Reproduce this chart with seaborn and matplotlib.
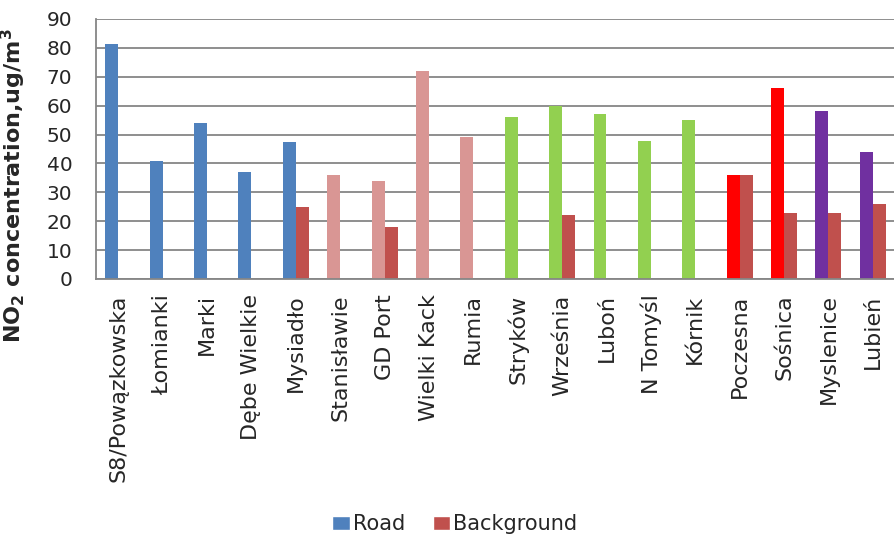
import numpy as np
import pandas as pd
import matplotlib
matplotlib.use("Agg")
import matplotlib.pyplot as plt
import seaborn as sns
from matplotlib.ticker import MultipleLocator, FixedLocator

# data
sites = ["S8/Powązkowska", "Łomianki", "Marki", "Dębe Wielkie", "Mysiadło",
         "Stanisławie", "GD Port", "Wielki Kack", "Rumia",
         "Stryków", "Września", "Luboń", "N Tomyśl", "Kórnik",
         "Poczesna", "Sośnica", "Myslenice", "Lubień"]
road = [81.3, 41, 54, 37, 47.3,
        36, 34, 72, 49,
        56, 60, 57, 47.8, 55,
        36, 66, 58, 44]
background = [np.nan, np.nan, np.nan, np.nan, 25,
              np.nan, 18, np.nan, np.nan,
              np.nan, 22, np.nan, np.nan, np.nan,
              36, 23, 23, 26]
# region group of each site (colour of the road bar)
groups = [0, 0, 0, 0, 0, 1, 1, 1, 1, 2, 2, 2, 2, 2, 3, 3, 4, 4]
group_colors = ["#4F81BD", "#D99694", "#92D050", "#FF0000", "#7030A0"]
bg_color = "#C0504D"

df = pd.DataFrame({
    "site": sites * 2,
    "value": road + background,
    "type": ["Road"] * len(sites) + ["Background"] * len(sites),
}).dropna()

sns.set_style("white")
plt.rcParams["font.family"] = ["DejaVu Sans"]
plt.rcParams["mathtext.default"] = "regular"

fig = plt.figure(figsize=(8.95, 5.36), dpi=100)
ax = fig.add_axes([0.1073, 0.4795, 0.8927, 0.4851])

sns.barplot(data=df, x="site", y="value", hue="type", order=sites,
            hue_order=["Road", "Background"],
            palette={"Road": group_colors[0], "Background": bg_color},
            saturation=1, width=0.585, gap=0, ax=ax, legend=True)

# recolour road bars by region
for bar, g in zip(ax.containers[0], groups):
    bar.set_facecolor(group_colors[g])
for cont in ax.containers:
    for bar in cont:
        bar.set_edgecolor("none")

ax.set_xlim(-0.5, len(sites) - 0.5)
ax.set_ylim(0, 90)
ax.yaxis.set_major_locator(MultipleLocator(10))
ax.grid(axis="y", color="#868686", lw=1.3)
ax.set_axisbelow(True)

for s in ["top", "right"]:
    ax.spines[s].set_visible(False)
for s in ["left", "bottom"]:
    ax.spines[s].set_color("#868686")
    ax.spines[s].set_linewidth(1.3)

ax.set_xticks(range(len(sites)))
ax.set_xticklabels(sites, rotation=90, fontsize=16)
ax.tick_params(axis="x", which="major", length=0, pad=11)
ax.xaxis.set_minor_locator(FixedLocator(np.arange(-0.5, len(sites), 1)))
ax.tick_params(axis="x", which="minor", length=6, width=1.3, color="#868686")
ax.tick_params(axis="y", length=7, width=1.3, color="#868686", labelsize=14.5, pad=10)

ax.set_xlabel("")
ax.set_ylabel("NO$_2$ concentration,ug/m$^3$", fontsize=16, fontweight="bold")
ax.yaxis.set_label_coords(-0.085, 0.36)

handles, labels = ax.get_legend_handles_labels()
ax.get_legend().remove()
fig.legend(handles, labels, loc="center", bbox_to_anchor=(455 / 895, 1 - 524 / 536), ncol=2,
           frameon=False, fontsize=15, handlelength=0.85, handleheight=0.67,
           handletextpad=0.15, columnspacing=1.3, borderpad=0)

fig.savefig("out.png", dpi=100)
